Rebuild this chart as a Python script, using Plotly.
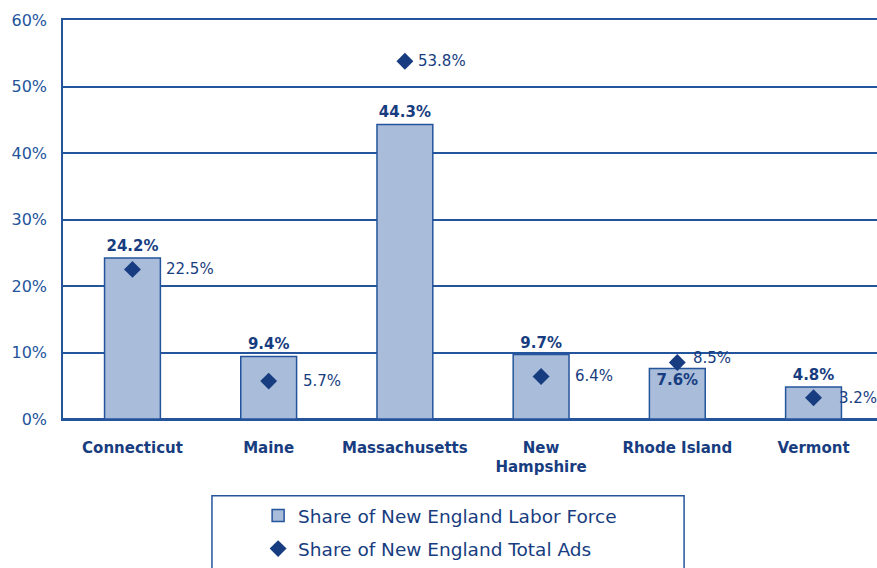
import plotly.graph_objects as go

states = ["Connecticut", "Maine", "Massachusetts", "New<br>Hampshire", "Rhode Island", "Vermont"]
labor_force = [24.2, 9.4, 44.3, 9.7, 7.6, 4.8]
total_ads = [22.5, 5.7, 53.8, 6.4, 8.5, 3.2]
y_ticks = [0, 10, 20, 30, 40, 50, 60]

BLUE = "#24559c"
DARK = "#173d80"
FILL = "#a9bcd9"
FONT = "DejaVu Sans"

bar_pos = ["inside" if s == "Rhode Island" else "outside" for s in states]
label_shift = {"Massachusetts": (11, 0), "Rhode Island": (14, 4), "Vermont": (23, 0)}

fig = go.Figure()
fig.add_trace(go.Bar(
    x=states, y=labor_force, name="Share of New England Labor Force",
    marker=dict(color=FILL, line=dict(color=BLUE, width=1.5)),
    width=0.41,
    text=[f"<b>{v:.1f}%</b>" for v in labor_force],
    textposition=bar_pos, insidetextanchor="end",
    textfont=dict(family=FONT, size=15, color=DARK),
    cliponaxis=False, legendgroup="a",
))
fig.add_trace(go.Scatter(
    x=states, y=total_ads, name="Share of New England Total Ads",
    mode="markers", marker=dict(symbol="diamond", size=13, color=DARK),
    cliponaxis=False, legendgroup="b",
))
for s, v in zip(states, total_ads):
    dx, dy = label_shift.get(s, (32, 0))
    fig.add_annotation(x=s, y=v, text=f"{v:.1f}%", showarrow=False,
                       xanchor="left", xshift=dx, yshift=dy,
                       font=dict(family=FONT, size=15, color=DARK))

fig.add_shape(type="rect", xref="paper", yref="paper",
              x0=0.183, x1=0.763, y0=-0.1925, y1=-0.40,
              line=dict(color=BLUE, width=1.5))

fig.update_layout(
    width=877, height=568,
    margin=dict(l=63, r=0, t=20, b=148),
    plot_bgcolor="white", paper_bgcolor="white",
    bargap=0.59,
    showlegend=True,
    legend=dict(x=0.2397, xanchor="left", y=-0.195, yanchor="top",
                orientation="v", font=dict(family=FONT, size=18.5, color=DARK),
                tracegroupgap=6, bgcolor="rgba(0,0,0,0)"),
    xaxis=dict(range=[-0.51, 5.466], showgrid=False, ticks="", automargin=False,
               showline=True, mirror=True, linecolor=BLUE, linewidth=1.5,
               tickfont=dict(family=FONT, size=15, color=DARK),
               tickprefix="<b>", ticksuffix="</b>", ticklabelstandoff=14),
    yaxis=dict(range=[0, 60], tickvals=y_ticks, ticktext=[f"{t}%" for t in y_ticks],
               automargin=False,
               showgrid=True, gridcolor=BLUE, gridwidth=1.5,
               showline=True, linecolor=BLUE, linewidth=1.5,
               zeroline=True, zerolinecolor=BLUE, zerolinewidth=1.5,
               tickfont=dict(family=FONT, size=16, color=BLUE), ticks="", ticklabelstandoff=11),
)
fig.write_html("out.html", config={"displayModeBar": False},
               post_script="document.body.style.margin='0';document.body.style.overflow='hidden';")
